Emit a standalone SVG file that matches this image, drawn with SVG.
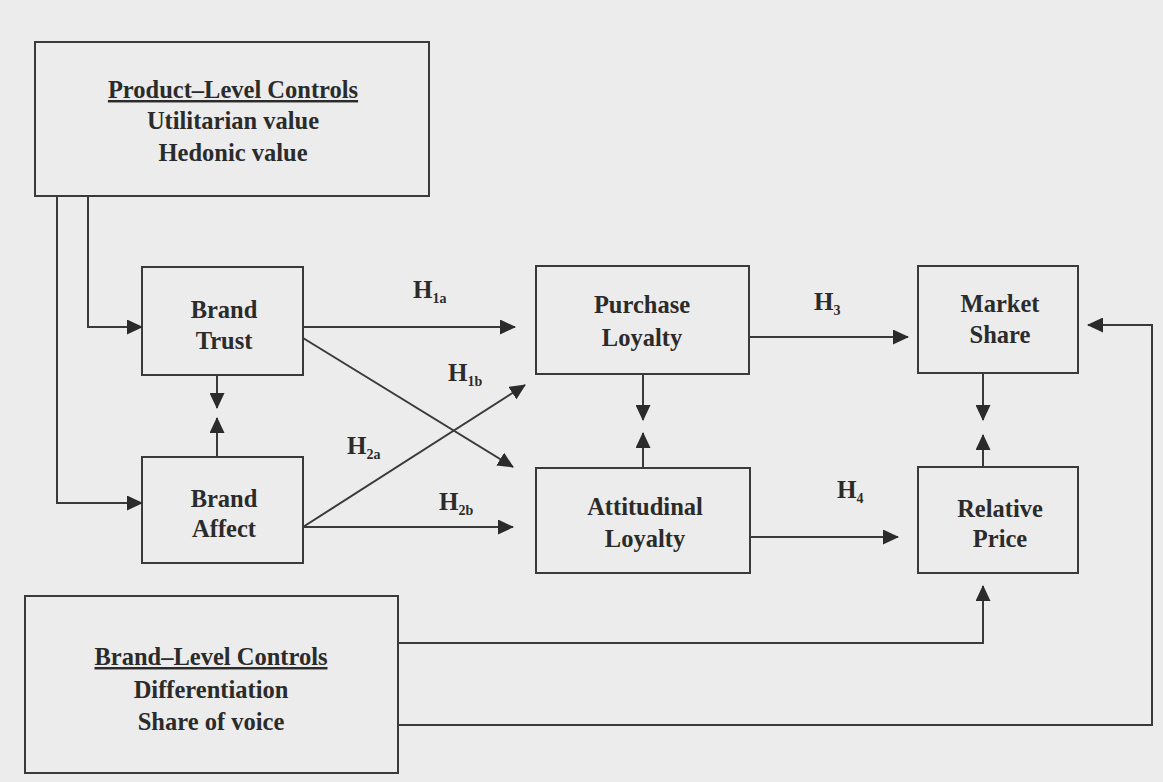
<svg xmlns="http://www.w3.org/2000/svg" width="1163" height="782" viewBox="0 0 1163 782">
<defs>
<style>
.box{fill:none;stroke:#3a3a3a;stroke-width:2}
.t{font-family:"Liberation Serif","Times New Roman",serif;font-weight:bold;font-size:24.5px;fill:#2b2b2b;text-anchor:middle}
.u{text-decoration:underline}
.h{font-family:"Liberation Serif","Times New Roman",serif;font-weight:bold;font-size:25px;fill:#2b2b2b}
.s{font-size:14px}
.c{fill:none;stroke:#3a3a3a;stroke-width:2}
</style>
<marker id="ah" viewBox="0 0 16 15" refX="15" refY="7.5" markerWidth="16" markerHeight="15" markerUnits="userSpaceOnUse" orient="auto">
<path d="M0,0 L16,7.5 L0,15 z" fill="#2b2b2b"/>
</marker>
</defs>
<rect width="1163" height="782" fill="#ececec"/>

<g id="product-controls">
<rect class="box" x="35" y="42" width="394" height="154"/>
<text class="t u" x="233" y="98">Product–Level Controls</text>
<text class="t" x="233" y="129">Utilitarian value</text>
<text class="t" x="233" y="161">Hedonic value</text>
</g>

<g id="brand-trust">
<rect class="box" x="142" y="267" width="161" height="108"/>
<text class="t" x="224" y="318">Brand</text>
<text class="t" x="224" y="349">Trust</text>
</g>

<g id="brand-affect">
<rect class="box" x="142" y="457" width="161" height="106"/>
<text class="t" x="224" y="507">Brand</text>
<text class="t" x="224" y="537">Affect</text>
</g>

<g id="purchase-loyalty">
<rect class="box" x="536" y="266" width="213" height="108"/>
<text class="t" x="642" y="313">Purchase</text>
<text class="t" x="642" y="346">Loyalty</text>
</g>

<g id="attitudinal-loyalty">
<rect class="box" x="536" y="468" width="214" height="105"/>
<text class="t" x="645" y="515">Attitudinal</text>
<text class="t" x="645" y="547">Loyalty</text>
</g>

<g id="market-share">
<rect class="box" x="918" y="266" width="160" height="107"/>
<text class="t" x="1000" y="312">Market</text>
<text class="t" x="1000" y="343">Share</text>
</g>

<g id="relative-price">
<rect class="box" x="918" y="467" width="160" height="106"/>
<text class="t" x="1000" y="517">Relative</text>
<text class="t" x="1000" y="547">Price</text>
</g>

<g id="brand-controls">
<rect class="box" x="25" y="596" width="373" height="177"/>
<text class="t u" x="211" y="665">Brand–Level Controls</text>
<text class="t" x="211" y="698">Differentiation</text>
<text class="t" x="211" y="730">Share of voice</text>
</g>

<g id="connectors">
<path class="c" d="M88,196 V327 H142" marker-end="url(#ah)"/>
<path class="c" d="M57,196 V503 H142" marker-end="url(#ah)"/>
<path class="c" d="M217,375 V408" marker-end="url(#ah)"/>
<path class="c" d="M217,457 V418" marker-end="url(#ah)"/>
<path class="c" d="M303,327 H515" marker-end="url(#ah)"/>
<path class="c" d="M303,338 L513,467" marker-end="url(#ah)"/>
<path class="c" d="M303,527 L525,385" marker-end="url(#ah)"/>
<path class="c" d="M303,527 H513" marker-end="url(#ah)"/>
<path class="c" d="M643,374 V420" marker-end="url(#ah)"/>
<path class="c" d="M643,468 V433" marker-end="url(#ah)"/>
<path class="c" d="M749,337 H908" marker-end="url(#ah)"/>
<path class="c" d="M750,537 H898" marker-end="url(#ah)"/>
<path class="c" d="M983,373 V420" marker-end="url(#ah)"/>
<path class="c" d="M983,467 V435" marker-end="url(#ah)"/>
<path class="c" d="M398,643 H983 V586" marker-end="url(#ah)"/>
<path class="c" d="M398,725 H1152 V325 H1088" marker-end="url(#ah)"/>
</g>

<g id="labels">
<text class="h" x="413" y="298">H<tspan class="s" dy="5">1a</tspan></text>
<text class="h" x="448" y="381">H<tspan class="s" dy="5">1b</tspan></text>
<text class="h" x="347" y="454">H<tspan class="s" dy="5">2a</tspan></text>
<text class="h" x="439" y="510">H<tspan class="s" dy="5">2b</tspan></text>
<text class="h" x="814" y="310">H<tspan class="s" dy="5">3</tspan></text>
<text class="h" x="837" y="498">H<tspan class="s" dy="5">4</tspan></text>
</g>
</svg>
